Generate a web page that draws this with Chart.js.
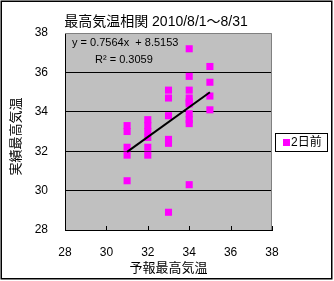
<!DOCTYPE html>
<html><head><meta charset="utf-8">
<script src="https://cdn.jsdelivr.net/npm/chart.js@4.4.1/dist/chart.umd.min.js"></script>
<style>html,body{margin:0;padding:0;background:#fff;}#wrap{width:334px;height:281px;position:relative;}</style>
</head><body><div id="wrap"><canvas id="c" width="334" height="281"></canvas></div>
<script>
const chartTitle = "最高気温相関 2010/8/1～8/31";
const xAxisTitle = "予報最高気温";
const yAxisTitle = "実績最高気温";
const seriesName = "2日前";
const forecastX = [31,31,31,31,31, 32,32,32,32,32,32, 33,33,33,33,33,33, 34,34,34,34,34,34,34,34,34,34, 35,35,35,35];
const actualY   = [33.3,33.0,32.2,31.8,30.5, 33.6,33.3,33.0,32.7,32.2,31.8, 35.1,34.7,33.8,32.6,32.4,28.9, 37.2,35.8,35.1,34.7,34.5,34.4,33.9,33.6,33.4,30.3, 36.3,35.5,34.8,34.1];
const trendSlope = [0.7564];
const trendIntercept = [8.5153];
const trendR2 = [0.3059];
const trendXRange = [31, 35];
const axisTicks = [28,30,32,34,36,38];

const FONT = '"Liberation Sans", "Noto Sans CJK JP", sans-serif';

const points = forecastX.map((x,i)=>({x:x, y:actualY[i]}));
const trend = trendXRange.map(x=>({x:x, y:trendSlope[0]*x+trendIntercept[0]}));

const decor = {
  id:'decor',
  beforeDraw(chart){
    const {ctx, chartArea:a} = chart;
    ctx.save();
    ctx.fillStyle='#fff'; ctx.fillRect(0,0,chart.width,chart.height);
    ctx.fillStyle='#C0C0C0'; ctx.fillRect(a.left,a.top,a.right-a.left,a.bottom-a.top);
    ctx.restore();
  },
  afterDatasetsDraw(chart){
    const {ctx, chartArea:a, scales} = chart;
    ctx.save();
    // plot border top/right gray
    ctx.strokeStyle='#808080'; ctx.lineWidth=1;
    ctx.beginPath();
    ctx.moveTo(a.left,a.top+0.5); ctx.lineTo(a.right-0.5,a.top+0.5); ctx.lineTo(a.right-0.5,a.bottom);
    ctx.stroke();
    // x ticks inside
    ctx.strokeStyle='#000';
    ctx.beginPath();
    axisTicks.forEach(v=>{ const px=Math.round(scales.x.getPixelForValue(v))+0.5; ctx.moveTo(px,a.bottom); ctx.lineTo(px,a.bottom-4); });
    ctx.stroke();
    // outer border
    ctx.lineWidth=1.5; ctx.strokeStyle='#000';
    ctx.strokeRect(1.25,1.25,330.5,277.5);
    // title
    ctx.fillStyle='#000';
    ctx.textAlign='center'; ctx.textBaseline='middle';
    ctx.font='14px '+FONT;
    ctx.fillText(chartTitle,156,22);
    // axis titles
    ctx.font='13px '+FONT;
    ctx.fillText(xAxisTitle,(a.left+a.right)/2,268);
    ctx.save(); ctx.translate(16,(a.top+a.bottom)/2+5); ctx.rotate(-Math.PI/2);
    ctx.fillText(yAxisTitle,0,0); ctx.restore();
    // equation
    ctx.font='11px '+FONT; ctx.textAlign='left';
    ctx.fillText('y = '+trendSlope[0]+'x  + '+trendIntercept[0], a.left+7, 43);
    ctx.fillText('R\u00B2 = '+trendR2[0], a.left+30, 60);
    // legend
    ctx.lineWidth=1; ctx.strokeStyle='#000';
    ctx.fillStyle='#fff'; ctx.fillRect(275.5,133.5,52,18);
    ctx.strokeRect(275.5,133.5,52,18);
    ctx.fillStyle='#FF00FF'; ctx.fillRect(283,139,7,7);
    ctx.fillStyle='#000'; ctx.font='12px '+FONT; ctx.textAlign='left';
    ctx.fillText(seriesName,291,143);
    ctx.restore();
  }
};

new Chart(document.getElementById('c'),{
  type:'scatter',
  data:{datasets:[
    {label:seriesName, data:points, pointStyle:'rect', pointRadius:5, pointHoverRadius:5,
     backgroundColor:'#FF00FF', borderColor:'#FF00FF', borderWidth:0, order:2},
    {type:'line', label:'trend', data:trend, borderColor:'#000', borderWidth:2, pointRadius:0, fill:false, order:1}
  ]},
  options:{
    responsive:false, animation:false, devicePixelRatio:1,
    layout:{padding:{top:33,right:62,left:0,bottom:0}},
    plugins:{legend:{display:false}, title:{display:false}, tooltip:{enabled:false}},
    scales:{
      x:{type:'linear', min:28, max:38,
         afterBuildTicks(s){ s.ticks = axisTicks.map(v=>({value:v})); },
         afterFit(s){ s.height=51; },
         grid:{display:false, drawTicks:false},
         border:{display:true, color:'#000', width:1},
         ticks:{padding:15, color:'#000', font:{family:FONT,size:12}, maxRotation:0}
      },
      y:{type:'linear', min:28, max:38,
         afterBuildTicks(s){ s.ticks = axisTicks.map(v=>({value:v})); },
         afterFit(s){ s.width=65; },
         grid:{drawTicks:false, color:(c)=> c.tick && c.tick.value===38 ? 'rgba(0,0,0,0)' : '#000', lineWidth:1},
         border:{display:true, color:'#000', width:1},
         ticks:{padding:17, color:'#000', font:{family:FONT,size:12}}
      }
    }
  },
  plugins:[decor]
});
</script></body></html>
